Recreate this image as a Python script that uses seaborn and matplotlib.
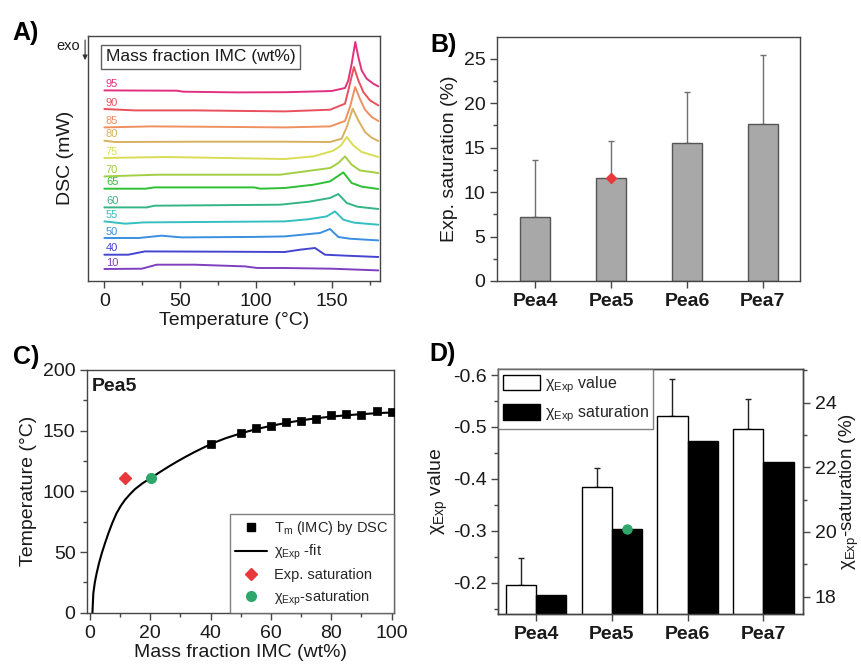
import numpy as np
import pandas as pd
import matplotlib
matplotlib.use("Agg")
import matplotlib.pyplot as plt
import seaborn as sns
from matplotlib.patches import Patch
from matplotlib.lines import Line2D
from matplotlib.ticker import MultipleLocator, FuncFormatter

sns.set_theme(style="ticks")
plt.rcParams["font.family"] = ["Liberation Sans", "DejaVu Sans"]
plt.rcParams["mathtext.fontset"] = "custom"
plt.rcParams["mathtext.rm"] = "Liberation Sans"
plt.rcParams["mathtext.it"] = "Liberation Sans:italic"
plt.rcParams["mathtext.bf"] = "Liberation Sans:bold"

# ---------------- Panel A: DSC traces (stacked, arbitrary units) ----------------
dsc_names = ["10", "40", "50", "55", "60", "65", "70", "75", "80", "85", "90", "95"]
dsc_colors = ["#7f3fbf", "#4545d0", "#3a8fe0", "#35bfc0", "#35b585", "#2fbf35",
              "#a2cf45", "#d9dd55", "#d8b060", "#ef9060", "#e8505e", "#e2307f"]

T_10 = [0, 24.7, 34.5, 59.8, 92.8, 101, 119, 150, 180.8]
Y_10 = [11.7, 12, 16, 16, 14.3, 12.7, 12.7, 12, 10.3]
T_40 = [0, 15.8, 26.8, 80, 119, 129.1, 139, 145.6, 160, 180.8]
Y_40 = [26, 26, 29.3, 29, 28.7, 31, 32.7, 26, 25, 23.7]
T_50 = [0, 22.5, 37.8, 51, 100, 119, 142.3, 148.9, 154.4, 162, 180.8]
Y_50 = [42.7, 42.7, 45, 43.3, 43.8, 44.3, 47.7, 51.7, 43.7, 42, 40.3]
T_55 = [0, 14, 26, 119, 135, 146.7, 152.2, 157.7, 165, 180.8]
Y_55 = [59.3, 57, 58.3, 59.3, 61.5, 64.3, 69.3, 61, 58, 56]
T_60 = [0, 28, 33, 116, 135, 148.9, 154.4, 160, 167, 180.8]
Y_60 = [73.3, 73.3, 75, 76, 79, 82.7, 86.7, 77.7, 74, 71.7]
T_65 = [0, 27, 33, 99, 103, 119, 138, 148.9, 157.7, 163.2, 170, 180.8]
Y_65 = [92, 92, 93.3, 93.3, 92, 92.7, 96, 99.3, 108.3, 97.7, 94, 91.7]
T_70 = [0, 35, 80, 116, 149, 154.4, 158.8, 163.2, 168.6, 180.8]
Y_70 = [104.3, 106, 106, 106, 112.7, 117.7, 124.3, 116, 110.3, 107.7]
T_75 = [0, 40, 80, 119, 138, 151, 156, 160, 164.3, 169.8, 180.8]
Y_75 = [122.7, 123.7, 122.7, 121.7, 124.3, 130, 135, 143.7, 135.3, 128.7, 123.7]
T_80 = [0, 7, 60, 119, 149, 156.6, 160, 163.9, 167.6, 172, 176.4, 180.8]
Y_80 = [140, 138.7, 139, 139, 138.7, 142, 153.7, 172, 160.3, 148.7, 143, 139.7]
T_85 = [0, 31, 80, 119, 149, 158.8, 162.1, 165.5, 168.6, 172, 176.4, 180.8]
Y_85 = [153.3, 154.3, 153.8, 153.3, 154.3, 159.7, 173.7, 193.7, 182, 171, 163.7, 159.7]
T_90 = [0, 20, 60, 119, 149, 158.8, 161, 164.7, 167.6, 170.9, 175.3, 180.8]
Y_90 = [171.7, 170.3, 170.3, 169.3, 171, 177, 190.3, 213.7, 200.3, 188.7, 180.3, 175.3]
T_95 = [0, 48, 52, 88, 120, 150, 158.8, 161, 163.2, 165.6, 167.6, 169.8, 173.1, 177.5, 180.8]
Y_95 = [190.3, 190, 189, 188.3, 188.5, 189.7, 192.7, 200.3, 217, 238.7, 223.7, 210.3, 202, 197, 194.3]

dsc_T = [T_10, T_40, T_50, T_55, T_60, T_65, T_70, T_75, T_80, T_85, T_90, T_95]
dsc_Y = [Y_10, Y_40, Y_50, Y_55, Y_60, Y_65, Y_70, Y_75, Y_80, Y_85, Y_90, Y_95]

# ---------------- Panel B ----------------
samples = ["Pea4", "Pea5", "Pea6", "Pea7"]
exp_sat = [7.25, 11.6, 15.5, 17.65]
exp_sat_err = [6.3, 4.13, 5.8, 7.75]
exp_sat_marker = 11.6

# ---------------- Panel C ----------------
tm_wt = [40, 50, 55, 60, 65, 70, 75, 80, 85, 90, 95, 100]
tm_T = [139, 147.8, 152, 154, 157.4, 158.2, 159.3, 162.6, 163.5, 163, 166, 165]
fit_wt = [0.8, 1.1, 1.6, 2.2, 3.0, 3.9, 5.0, 6.1, 7.4, 8.8, 10.2, 11.6, 13.2, 14.9, 17.5,
          20.2, 23, 26, 28.7, 31.5, 34.5, 37.6, 41, 45, 50, 55, 60, 65, 70, 75, 80, 85, 90, 95, 100]
fit_T = [0, 16, 25, 32.5, 41, 49, 57.5, 65.5, 74, 82, 88, 93, 97.5, 101.8, 106.8,
         111, 115.6, 120.3, 124.3, 128.2, 132.2, 136, 140, 143.8, 147.8, 151.2, 154, 156.4,
         158.5, 160.2, 161.6, 162.7, 163.6, 164.4, 165]
exp_sat_pt = (11.6, 111)
chi_sat_pt = (20.1, 111)

# ---------------- Panel D ----------------
chi_val = [-0.1955, -0.3836, -0.5217, -0.4966]
chi_err = [0.052, 0.038, 0.071, 0.058]
chi_sat = [18.04, 20.10, 22.82, 22.16]
chi_sat_marker = 20.1

SP = "#454545"
TXT = "#1a1a1a"
FS = 14


def style(ax):
    for s in ax.spines.values():
        s.set_color(SP)
        s.set_linewidth(1.0)
    ax.tick_params(which="both", direction="out", color=SP, width=1,
                   labelsize=FS, labelcolor=TXT, top=False, right=False)
    ax.tick_params(which="major", length=5)
    ax.tick_params(which="minor", length=3)


fig = plt.figure(figsize=(8.62, 6.64), dpi=100)
W, H = 862.0, 664.0


def rect(l, r, t, b):
    return [l / W, 1 - b / H, (r - l) / W, (b - t) / H]


# ===== Panel A =====
axA = fig.add_axes(rect(88.3, 380, 36, 280.7))
rows = []
for name, Ts, Ys in zip(dsc_names, dsc_T, dsc_Y):
    for t, y in zip(Ts, Ys):
        rows.append({"T": t, "y": y, "wt": name})
dfA = pd.DataFrame(rows)
sns.lineplot(data=dfA, x="T", y="y", hue="wt", hue_order=dsc_names,
             palette=dict(zip(dsc_names, dsc_colors)), estimator=None, sort=False,
             linewidth=1.4, legend=False, ax=axA)
for name, Ts, Ys, c in zip(dsc_names, dsc_T, dsc_Y, dsc_colors):
    axA.text(1, Ys[0] + 1.2, name, color=c, fontsize=8, ha="left", va="bottom")
axA.set_xlim(-10.6, 181.9)
axA.set_ylim(0, 244.7)
axA.set_yticks([])
axA.xaxis.set_major_locator(MultipleLocator(50))
axA.xaxis.set_minor_locator(MultipleLocator(25))
style(axA)
axA.set_xlabel("Temperature (°C)", fontsize=FS, color=TXT, labelpad=2)
axA.set_ylabel("DSC (mW)", fontsize=FS, color=TXT, labelpad=10)
axA.text(0.06, 0.915, "Mass fraction IMC (wt%)", transform=axA.transAxes,
         fontsize=12.5, color=TXT, va="center", ha="left",
         bbox=dict(boxstyle="square,pad=0.25", fc="white", ec="#606060", lw=1))
axA.annotate("", xy=(-0.011, 0.89), xytext=(-0.011, 0.995), xycoords="axes fraction",
             arrowprops=dict(arrowstyle="-|>", color="#333333", lw=0.8, mutation_scale=7),
             annotation_clip=False)
axA.text(-0.03, 0.96, "exo", transform=axA.transAxes, fontsize=10.5, color=TXT,
         ha="right", va="center")

# ===== Panel B =====
axB = fig.add_axes(rect(497.3, 800, 37.3, 281))
axB.errorbar(range(len(samples)), exp_sat, yerr=[np.zeros(len(samples)), exp_sat_err],
             fmt="none", ecolor="#707070", elinewidth=1, capsize=2.5, capthick=1, zorder=0.5)
sns.barplot(x=samples, y=exp_sat, color="#a8a8a8", edgecolor="#555555", linewidth=1,
            width=0.4, saturation=1, errorbar=None, ax=axB, zorder=2)
axB.plot([1], [exp_sat_marker], marker="D", color="#e8383c", markersize=5.5,
         linestyle="none", zorder=3)
axB.set_xlim(-0.5, 3.49)
axB.set_ylim(0, 27.4)
axB.yaxis.set_major_locator(MultipleLocator(5))
axB.yaxis.set_minor_locator(MultipleLocator(2.5))
style(axB)
axB.set_xticks(range(len(samples)))
axB.set_xticklabels(samples, fontweight="bold", fontsize=FS)
axB.set_xlabel("")
axB.set_ylabel("Exp. saturation (%)", fontsize=FS, color=TXT)

# ===== Panel C =====
axC = fig.add_axes(rect(87.3, 394, 370, 612.7))
sns.lineplot(x=fit_wt, y=fit_T, color="black", linewidth=1.5, sort=False, ax=axC)
sns.scatterplot(x=tm_wt, y=tm_T, marker="s", color="black", s=40, edgecolor="black",
                ax=axC, zorder=3)
axC.plot([exp_sat_pt[0]], [exp_sat_pt[1]], marker="D", color="#e8383c", markersize=6,
         linestyle="none", zorder=3)
axC.plot([chi_sat_pt[0]], [chi_sat_pt[1]], marker="o", color="#2ea86a", markersize=7,
         linestyle="none", zorder=3)
axC.set_xlim(-0.9, 100.8)
axC.set_ylim(0, 200)
axC.xaxis.set_major_locator(MultipleLocator(20))
axC.xaxis.set_minor_locator(MultipleLocator(10))
axC.yaxis.set_major_locator(MultipleLocator(50))
axC.yaxis.set_minor_locator(MultipleLocator(25))
style(axC)
axC.set_xlabel("Mass fraction IMC (wt%)", fontsize=FS, color=TXT, labelpad=2)
axC.set_ylabel("Temperature (°C)", fontsize=FS, color=TXT)
axC.text(0.015, 0.965, "Pea5", transform=axC.transAxes, fontsize=FS,
         fontweight="bold", color=TXT, ha="left", va="top")
hC = [Line2D([], [], marker="s", color="black", linestyle="none", markersize=6),
      Line2D([], [], color="black", lw=1.5),
      Line2D([], [], marker="D", color="#e8383c", linestyle="none", markersize=6),
      Line2D([], [], marker="o", color="#2ea86a", linestyle="none", markersize=7)]
lC = [r"T$_{\mathrm{m}}$ (IMC) by DSC", r"χ$_{\mathrm{Exp}}$ -fit",
      "Exp. saturation", r"χ$_{\mathrm{Exp}}$-saturation"]
legC = axC.legend(hC, lC, loc="lower right", fontsize=10.5, frameon=True, fancybox=False,
                  edgecolor="#606060", borderaxespad=0, handlelength=2.2,
                  labelspacing=0.42, borderpad=0.35, handletextpad=0.5)
legC.get_frame().set_linewidth(1)

# ===== Panel D =====
axD = fig.add_axes(rect(498.3, 802.7, 369.3, 614))
axD2 = axD.twinx()
pos = np.arange(len(samples))
sns.barplot(x=pos - 0.2, y=chi_val, native_scale=True, width=0.4, color="white",
            edgecolor="black", linewidth=1, saturation=1, errorbar=None, ax=axD, zorder=2)
axD.errorbar(pos - 0.2, chi_val, yerr=[chi_err, np.zeros(len(samples))], fmt="none",
             ecolor="#222222", elinewidth=1, capsize=2.5, capthick=1, zorder=0.5)
sns.barplot(x=pos + 0.2, y=chi_sat, native_scale=True, width=0.4, color="black",
            edgecolor="black", linewidth=1, saturation=1, errorbar=None, ax=axD2, zorder=2)
axD2.plot([1.2], [chi_sat_marker], marker="o", color="#2ea86a", markersize=6.5,
          linestyle="none", zorder=3)
axD.set_ylim(-0.1396, -0.611)
axD2.set_ylim(17.46, 25.03)
axD.set_xlim(-0.5, 3.52)
axD2.set_xlim(-0.5, 3.52)
axD.yaxis.set_major_locator(MultipleLocator(0.1))
axD.yaxis.set_minor_locator(MultipleLocator(0.05))
axD2.yaxis.set_major_locator(MultipleLocator(2))
axD2.yaxis.set_minor_locator(MultipleLocator(1))
style(axD)
style(axD2)
axD2.tick_params(which="both", right=True, left=False, labelright=True, labelleft=False)
axD.set_xticks(pos)
axD.set_xticklabels(samples, fontweight="bold", fontsize=FS)
axD.set_xlabel("")
axD.set_ylabel(r"χ$_{\mathrm{Exp}}$ value", fontsize=FS, color=TXT, labelpad=2)
axD2.set_ylabel(r"χ$_{\mathrm{Exp}}$-saturation (%)", fontsize=13.5, color=TXT, labelpad=1)
axD.yaxis.set_major_formatter(FuncFormatter(lambda v, p: f"{v:.1f}"))
hD = [Patch(fc="white", ec="black", lw=1), Patch(fc="black", ec="black", lw=1)]
lD = [r"χ$_{\mathrm{Exp}}$ value", r"χ$_{\mathrm{Exp}}$ saturation"]
legD = axD2.legend(hD, lD, loc="upper left", fontsize=11.5, frameon=True, fancybox=False,
                   edgecolor="#606060", borderaxespad=0, handlelength=2.3,
                   handleheight=1.1, labelspacing=0.55, borderpad=0.3, handletextpad=0.3)
legD.get_frame().set_linewidth(1)

# panel letters
for lab, x, y in [("A)", 12, 33), ("B)", 430, 45), ("C)", 13, 357), ("D)", 429, 354)]:
    fig.text(x / W, 1 - y / H, lab, fontsize=18, fontweight="bold", color="black",
             ha="left", va="center")

fig.savefig("out.png", dpi=100)
